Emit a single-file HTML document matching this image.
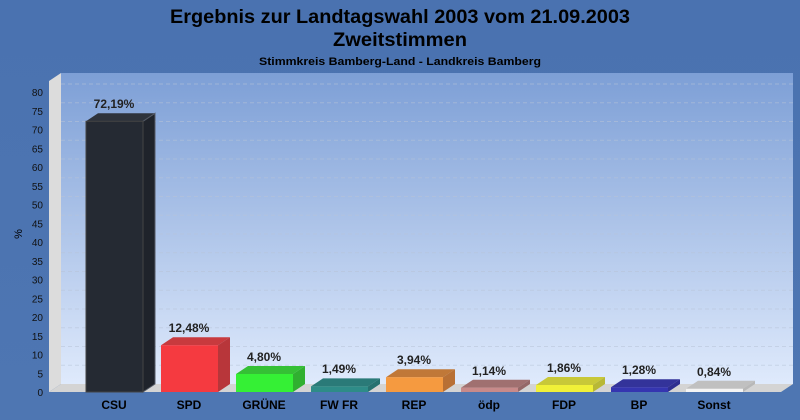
<!DOCTYPE html>
<html><head><meta charset="utf-8"><style>body{margin:0}svg{display:block}</style></head><body>
<svg width="800" height="420" xmlns="http://www.w3.org/2000/svg" font-family="Liberation Sans, Arial, sans-serif">
<defs>
<linearGradient id="bg" x1="0" y1="0" x2="0" y2="1"><stop offset="0" stop-color="#4a72b0"/><stop offset="1" stop-color="#4e76b2"/></linearGradient>
<linearGradient id="wall" x1="0" y1="0" x2="0" y2="1"><stop offset="0" stop-color="#7d9fd6"/><stop offset="1" stop-color="#dfeafc"/></linearGradient>
</defs>
<rect width="800" height="420" fill="url(#bg)"/>
<text x="400" y="23" text-anchor="middle" font-size="19" font-weight="bold" textLength="460" lengthAdjust="spacingAndGlyphs">Ergebnis zur Landtagswahl 2003 vom 21.09.2003</text>
<text x="400" y="46" text-anchor="middle" font-size="19" font-weight="bold" textLength="134" lengthAdjust="spacingAndGlyphs">Zweitstimmen</text>
<text x="400" y="65" text-anchor="middle" font-size="11" font-weight="bold" textLength="282" lengthAdjust="spacingAndGlyphs">Stimmkreis Bamberg-Land - Landkreis Bamberg</text>
<rect x="61" y="73" width="732" height="311" fill="url(#wall)"/>
<polygon points="49,81 61,73 61,384 49,392" fill="#dcdcdc"/>
<polygon points="49,392 61,384 793,384 781,392" fill="#d4d4d4"/>
<g stroke="#b8c4d8" stroke-dasharray="4,3" stroke-width="1" opacity="0.55">
<line x1="61" x2="793" y1="84" y2="84"/><line x1="61" x2="793" y1="102.75" y2="102.75"/><line x1="61" x2="793" y1="121.5" y2="121.5"/><line x1="61" x2="793" y1="140.25" y2="140.25"/><line x1="61" x2="793" y1="159" y2="159"/><line x1="61" x2="793" y1="177.75" y2="177.75"/><line x1="61" x2="793" y1="196.5" y2="196.5"/><line x1="61" x2="793" y1="215.25" y2="215.25"/><line x1="61" x2="793" y1="234" y2="234"/><line x1="61" x2="793" y1="252.75" y2="252.75"/><line x1="61" x2="793" y1="271.5" y2="271.5"/><line x1="61" x2="793" y1="290.25" y2="290.25"/><line x1="61" x2="793" y1="309" y2="309"/><line x1="61" x2="793" y1="327.75" y2="327.75"/><line x1="61" x2="793" y1="346.5" y2="346.5"/><line x1="61" x2="793" y1="365.25" y2="365.25"/>
</g>
<g font-size="10" text-anchor="end" fill="#111">
<text x="43" y="96">80</text><text x="43" y="114.75">75</text><text x="43" y="133.5">70</text><text x="43" y="152.25">65</text><text x="43" y="171">60</text><text x="43" y="189.75">55</text><text x="43" y="208.5">50</text><text x="43" y="227.25">45</text><text x="43" y="246">40</text><text x="43" y="264.75">35</text><text x="43" y="283.5">30</text><text x="43" y="302.25">25</text><text x="43" y="321">20</text><text x="43" y="339.75">15</text><text x="43" y="358.5">10</text><text x="43" y="377.25">5</text><text x="43" y="396">0</text>
</g>
<text x="22" y="234" font-size="11" transform="rotate(-90 22 234)" text-anchor="middle">%</text>
<g stroke-width="1">
<g fill="#252a33"><polygon points="86,121.3 98,113.3 155,113.3 143,121.3" fill="#2e333c"/><polygon points="143,121.3 155,113.3 155,384 143,392" fill="#1f232b" stroke="#555a66"/><rect x="86" y="121.3" width="57" height="270.7" stroke="#444"/></g>
<g><polygon points="161,345.2 173,337.2 230,337.2 218,345.2" fill="#c83a3e"/><polygon points="218,345.2 230,337.2 230,384 218,392" fill="#b8363a"/><rect x="161" y="345.2" width="57" height="46.8" fill="#f53a40"/></g>
<g><polygon points="236,374 248,366 305,366 293,374" fill="#35c035"/><polygon points="293,374 305,366 305,384 293,392" fill="#30b030"/><rect x="236" y="374" width="57" height="18" fill="#35f035"/></g>
<g><polygon points="311,386.4 323,378.4 380,378.4 368,386.4" fill="#2a7a78"/><polygon points="368,386.4 380,378.4 380,384 368,392" fill="#267270"/><rect x="311" y="386.4" width="57" height="5.6" fill="#2e8c88"/></g>
<g><polygon points="386,377.2 398,369.2 455,369.2 443,377.2" fill="#c07838"/><polygon points="443,377.2 455,369.2 455,384 443,392" fill="#b87035"/><rect x="386" y="377.2" width="57" height="14.8" fill="#f59a40"/></g>
<g><polygon points="461,387.7 473,379.7 530,379.7 518,387.7" fill="#a07070"/><polygon points="518,387.7 530,379.7 530,384 518,392" fill="#956868"/><rect x="461" y="387.7" width="57" height="4.3" fill="#c88a8a"/></g>
<g><polygon points="536,385 548,377 605,377 593,385" fill="#c8c838"/><polygon points="593,385 605,377 605,384 593,392" fill="#b8b835"/><rect x="536" y="385" width="57" height="7" fill="#f0f038"/></g>
<g><polygon points="611,387.2 623,379.2 680,379.2 668,387.2" fill="#33339a"/><polygon points="668,387.2 680,379.2 680,384 668,392" fill="#2e2e90"/><rect x="611" y="387.2" width="57" height="4.8" fill="#3535b0"/></g>
<g><polygon points="686,388.8 698,380.8 755,380.8 743,388.8" fill="#c0c0c0"/><polygon points="743,388.8 755,380.8 755,384 743,392" fill="#b8b8b8"/><rect x="686" y="388.8" width="57" height="3.2" fill="#f4f4f4"/></g>
</g>
<g font-size="12" font-weight="bold" fill="#222" text-anchor="middle">
<text x="114" y="108">72,19%</text><text x="189" y="332">12,48%</text><text x="264" y="361">4,80%</text><text x="339" y="373">1,49%</text><text x="414" y="364">3,94%</text><text x="489" y="375">1,14%</text><text x="564" y="372">1,86%</text><text x="639" y="374">1,28%</text><text x="714" y="376">0,84%</text>
</g>
<g font-size="12" font-weight="bold" fill="#000" text-anchor="middle">
<text x="114" y="409">CSU</text><text x="189" y="409">SPD</text><text x="264" y="409">GRÜNE</text><text x="339" y="409">FW FR</text><text x="414" y="409">REP</text><text x="489" y="409">ödp</text><text x="564" y="409">FDP</text><text x="639" y="409">BP</text><text x="714" y="409">Sonst</text>
</g>
</svg>
</body></html>
